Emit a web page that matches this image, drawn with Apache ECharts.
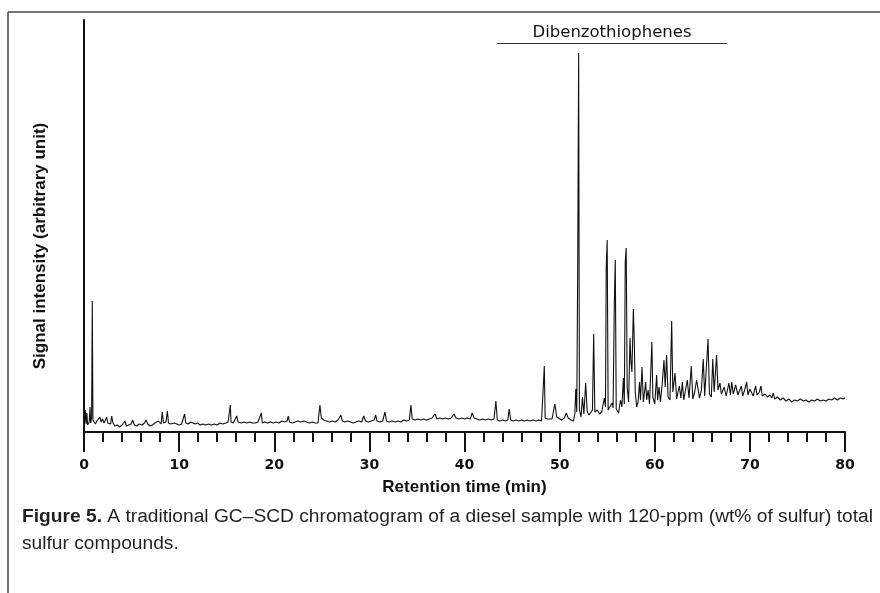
<!DOCTYPE html>
<html>
<head>
<meta charset="utf-8">
<script src="https://cdn.jsdelivr.net/npm/echarts@6/dist/echarts.min.js"></script>
<style>
html, body { margin: 0; padding: 0; background: #fff; }
#gcscd { width: 880px; height: 593px; }
</style>
</head>
<body>
<div id="gcscd"></div>
<script>
// retention time (min), signal (arbitrary unit)
var early = [[0.05,9],[0.15,22],[0.22,8],[0.3,19],[0.38,7],[0.55,10],[0.63,25],[0.7,9],[0.8,14],[0.87,131],[0.94,12],
    [1.05,10],[1.2,8],[1.35,11],[1.55,9],[1.68,15],[1.8,10],[1.95,13],[2.1,9],[2.25,12],[2.38,15],[2.5,9],[2.65,11],
    [2.8,8],[2.91,16],[3.05,9],[3.25,6],[3.5,7],[3.75,5],[4.0,7],[4.2,6],[4.31,11],[4.45,6],[4.7,7],[4.95,8],[5.12,12],
    [5.3,7],[5.55,6],[5.8,8],[6.1,7],[6.35,9],[6.52,12],[6.7,8],[6.95,6],[7.2,7],[7.45,9],[7.65,8],[7.81,11],[7.95,9],
    [8.1,8],[8.23,20],[8.35,9],[8.5,8],[8.62,10],[8.76,21],[8.88,9],[9.1,8],[9.3,7],[9.5,9],[9.75,8],[10.0,7]];
var middle = [[10.25,8],[10.45,9],[10.58,18],[10.7,9],[10.95,8],[11.2,10],[11.45,9],[11.7,8],[11.95,9],[12.2,7],
    [12.5,8],[12.8,7],[13.1,8],[13.4,7],[13.7,8],[14.0,7],[14.3,9],[14.6,8],[14.9,9],[15.15,10],[15.3,9],[15.38,27],
    [15.46,10],[15.7,9],[15.9,11],[16.05,16],[16.2,10],[16.5,9],[16.8,10],[17.1,9],[17.4,10],[17.7,9],[18.0,9],
    [18.3,10],[18.5,9],[18.64,19],[18.75,9],[19.0,10],[19.3,9],[19.6,10],[19.9,9],[20.2,10],[20.5,9],[20.8,11],
    [21.1,10],[21.35,11],[21.48,16],[21.6,10],[21.9,9],[22.2,10],[22.5,11],[22.8,10],[23.1,11],[23.4,10],[23.7,9],
    [24.0,10],[24.3,9],[24.6,9],[24.8,27],[24.95,14],[25.2,12],[25.5,11],[25.8,10],[26.1,11],[26.4,10],[26.7,12],
    [27.0,17],[27.15,11],[27.4,10],[27.7,11],[28.0,10],[28.3,9],[28.6,10],[28.9,11],[29.2,10],[29.4,16],[29.6,11],
    [29.9,10],[30.2,11],[30.5,12],[30.66,17],[30.8,11],[31.1,10],[31.4,11],[31.64,20],[31.8,11],[32.1,10],[32.4,11],
    [32.7,10],[33.0,11],[33.3,10],[33.6,12],[33.9,11],[34.2,12],[34.37,27],[34.5,13],[34.8,12],[35.1,13],[35.4,12],
    [35.7,13],[36.0,12],[36.3,13],[36.6,14],[36.9,18],[37.1,13],[37.4,14],[37.7,13],[38.0,14],[38.3,13],[38.6,14],
    [38.9,18],[39.1,14],[39.4,13],[39.7,14],[40.0,13],[40.3,14],[40.6,13],[40.8,19],[41.0,14],[41.3,13],[41.6,12],
    [41.9,13],[42.2,12],[42.5,13],[42.8,12],[43.1,13],[43.3,31],[43.45,12],[43.7,11],[44.0,12],[44.3,11],[44.55,12],
    [44.7,23],[44.85,12],[45.1,11]];
var dbtCluster = [[45.4,12],[45.7,11],[46.0,12],[46.3,11],[46.6,12],[46.9,11],[47.2,12],[47.5,11],[47.8,12],
    [48.1,11],[48.3,13],[48.39,66],[48.48,14],[48.7,13],[48.9,12],[49.2,13],[49.5,28],[49.7,15],[49.9,13],[50.2,12],
    [50.5,14],[50.7,19],[50.9,14],[51.2,12],[51.45,11],[51.6,18],[51.7,43],[51.8,20],[51.9,165],[52.0,379],[52.08,22],
    [52.25,15],[52.4,35],[52.55,18],[52.74,49],[52.9,20],[53.1,17],[53.3,19],[53.45,22],[53.58,98],[53.7,20],
    [53.96,22],[54.2,18],[54.42,20],[54.55,18],[54.7,34],[54.82,25],[54.9,165],[55.0,192],[55.1,22],[55.29,20],
    [55.5,29],[55.62,24],[55.75,129],[55.85,172],[55.95,23],[56.2,19],[56.4,32],[56.55,25],[56.7,54],[56.8,28],
    [56.9,170],[57.0,184],[57.1,45],[57.25,30],[57.4,94],[57.5,70],[57.6,60],[57.75,123],[57.85,90],[57.95,40],
    [58.1,25],[58.25,30],[58.4,50],[58.5,32],[58.66,65],[58.8,30],[59.05,50],[59.15,32],[59.3,42],[59.45,28],
    [59.7,90],[59.8,35],[60.0,28],[60.2,57],[60.3,32],[60.45,45],[60.6,30],[60.8,50],[60.97,72],[61.1,45],
    [61.25,77],[61.4,35],[61.6,32],[61.78,111],[61.9,40],[62.13,59],[62.3,33],[62.58,46],[62.75,34],[62.9,50],
    [63.05,32],[63.42,52],[63.6,34],[63.84,66],[64.0,33],[64.2,40],[64.4,52],[64.55,52],[64.7,34],[64.9,42],
    [65.1,73],[65.25,36],[65.6,93],[65.75,38],[65.95,35],[66.1,73],[66.25,40],[66.5,77],[66.65,42],[66.86,49],
    [67.0,38]];
var late = [[67.3,45],[67.5,36],[67.8,49],[67.95,37],[68.1,50],[68.25,38],[68.5,47],[68.6,48],[68.75,37],[69.1,46],
    [69.25,36],[69.45,42],[69.66,50],[69.8,37],[70.0,43],[70.2,42],[70.35,36],[70.6,46],[70.75,37],[71.0,40],
    [71.17,46],[71.3,36],[71.6,38],[71.85,35],[72.1,37],[72.3,34],[72.46,39],[72.6,33],[72.9,35],[73.2,32],
    [73.5,34],[73.8,31],[74.1,33],[74.4,30],[74.7,32],[75.0,31],[75.3,33],[75.6,31],[75.9,32],[76.2,30],[76.5,32],
    [76.8,31],[77.1,33],[77.4,31],[77.7,32],[78.0,31],[78.3,33],[78.6,32],[78.9,34],[79.2,32],[79.5,34],[79.8,33],
    [80.0,34]];

var xTickValues = [0, 10, 20, 30, 40, 50, 60, 70, 80];
var dbtRange = [43.42, 67.59];
var dbtLevel = 388.5;
var dbtLabel = "Dibenzothiophenes";
var captionBold = "Figure 5.";
var captionText = " A traditional GC\u2013SCD chromatogram of a diesel sample with 120-ppm (wt% of sulfur) total\nsulfur compounds.";

var trace = early.concat(middle, dbtCluster, late);

var chart = echarts.init(document.getElementById("gcscd"), null, { renderer: "canvas" });
var sansFont = "'Liberation Sans', Arial, sans-serif";

chart.setOption({
    animation: false,
    backgroundColor: "#fff",
    grid: { left: 84, right: 35, top: 20, bottom: 161, containLabel: false },
    title: {
        left: 22, top: 503, padding: 0,
        text: "{b|" + captionBold + "}" + captionText,
        textStyle: {
            fontFamily: sansFont, fontSize: 19.2, fontWeight: "normal", color: "#231f20", lineHeight: 27,
            rich: { b: { fontFamily: sansFont, fontSize: 19.2, fontWeight: "bold", color: "#231f20", lineHeight: 27 } }
        }
    },
    xAxis: {
        type: "value", min: 0, max: 80, interval: 10,
        name: "Retention time (min)", nameLocation: "middle", nameGap: 47,
        nameTextStyle: { fontFamily: sansFont, fontSize: 17, fontWeight: "bold", color: "#111" },
        axisLine: { onZero: false, lineStyle: { color: "#111", width: 2 } },
        axisTick: { length: 20, lineStyle: { color: "#111", width: 2 } },
        minorTick: { show: true, splitNumber: 5, length: 10, lineStyle: { color: "#111", width: 2 } },
        axisLabel: {
            margin: 26, fontFamily: "'DejaVu Sans', sans-serif", fontSize: 14, fontWeight: "bold", color: "#111",
            formatter: function(v) { return xTickValues.indexOf(v) >= 0 ? String(v) : ""; }
        },
        splitLine: { show: false }
    },
    yAxis: {
        type: "value", min: 0, max: 412,
        name: "Signal intensity (arbitrary unit)", nameLocation: "middle", nameGap: 35, nameRotate: 90,
        nameTextStyle: { fontFamily: sansFont, fontSize: 17, fontWeight: "bold", color: "#111", padding: [0, 40, 0, 0] },
        axisLine: { show: true, onZero: false, lineStyle: { color: "#111", width: 2 } },
        axisTick: { show: false },
        axisLabel: { show: false },
        splitLine: { show: false }
    },
    graphic: [
        { type: "line", shape: { x1: 8, y1: 12, x2: 880, y2: 12 }, style: { stroke: "#444", lineWidth: 1.5 } },
        { type: "line", shape: { x1: 8, y1: 12, x2: 8, y2: 593 }, style: { stroke: "#444", lineWidth: 1.5 } }
    ],
    series: [{
        type: "line",
        data: trace,
        showSymbol: false,
        symbol: "none",
        sampling: null,
        lineStyle: { color: "#111", width: 1.1 },
        markLine: {
            silent: true,
            symbol: ["none", "none"],
            lineStyle: { type: "solid", color: "#333", width: 1.2 },
            label: {
                show: true, position: "insideMiddleTop", distance: 2,
                formatter: dbtLabel,
                fontFamily: "'DejaVu Sans', sans-serif", fontSize: 16.5, color: "#111"
            },
            data: [[{ coord: [dbtRange[0], dbtLevel] }, { coord: [dbtRange[1], dbtLevel] }]]
        }
    }]
});
</script>
</body>
</html>
